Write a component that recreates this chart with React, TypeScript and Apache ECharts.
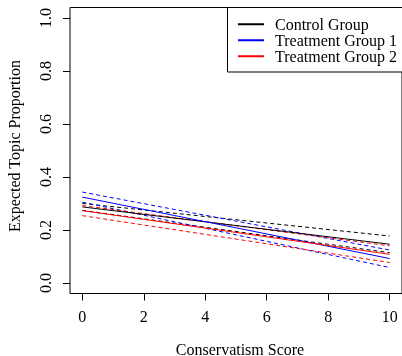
import React, { useEffect, useRef } from "react";
import * as echarts from "echarts";

const xs = [0, 10];
const xTicks = [0, 2, 4, 6, 8, 10];
const yTicks = [0, 0.2, 0.4, 0.6, 0.8, 1.0];

const groupNames = ["Control Group", "Treatment Group 1", "Treatment Group 2"];
const groupColors = ["#000000", "#0000ff", "#ff0000"];

const controlMean = [0.287, 0.146];
const controlUpper = [0.3, 0.177];
const controlLower = [0.274, 0.114];

const t1Mean = [0.324, 0.092];
const t1Upper = [0.343, 0.124];
const t1Lower = [0.305, 0.058];

const t2Mean = [0.273, 0.108];
const t2Upper = [0.292, 0.14];
const t2Lower = [0.254, 0.077];

const FONT = "Liberation Serif";

export default function App() {
  const ref = useRef<HTMLDivElement>(null);
  useEffect(() => {
    if (!ref.current) return;
    const chart = echarts.init(ref.current, null, { renderer: "svg" });
    const groups = [
      [controlMean, controlUpper, controlLower],
      [t1Mean, t1Upper, t1Lower],
      [t2Mean, t2Upper, t2Lower],
    ];
    const series: any[] = [];
    groups.forEach((g, gi) => {
      const [mean, up, lo] = g;
      series.push({
        name: groupNames[gi],
        type: "line",
        data: xs.map((x, i) => [x, mean[i]]),
        symbol: "none",
        lineStyle: { color: groupColors[gi], width: 1 },
        itemStyle: { color: groupColors[gi] },
        z: 3,
      });
      [up, lo].forEach((arr, k) => {
        series.push({
          name: groupNames[gi] + (k === 0 ? " upper" : " lower"),
          type: "line",
          data: xs.map((x, i) => [x, arr[i]]),
          symbol: "none",
          lineStyle: { color: groupColors[gi], width: 1, type: [4, 3] },
          itemStyle: { color: groupColors[gi] },
          z: 2,
        });
      });
    });

    chart.setOption({
      animation: false,
      textStyle: { fontFamily: FONT, color: "#000" },
      grid: {
        left: 70,
        top: 7.5,
        width: 333,
        height: 286,
        show: true,
        borderColor: "#000",
        borderWidth: 1,
        backgroundColor: "transparent",
      },
      xAxis: {
        type: "value",
        min: -0.4,
        max: 10.4,
        axisLine: { show: false, onZero: false },
        splitLine: { show: false },
        axisTick: {
          show: true,
          length: 7,
          inside: false,
          customValues: xTicks,
          lineStyle: { color: "#000" },
        },
        axisLabel: {
          customValues: xTicks,
          margin: 15,
          fontSize: 16,
          fontFamily: FONT,
          color: "#000",
        },
      },
      yAxis: {
        type: "value",
        min: -0.04,
        max: 1.04,
        axisLine: { show: false, onZero: false },
        splitLine: { show: false },
        axisTick: {
          show: true,
          length: 7,
          inside: false,
          customValues: yTicks,
          lineStyle: { color: "#000" },
        },
        axisLabel: {
          customValues: yTicks,
          rotate: 90,
          margin: 17,
          fontSize: 16,
          fontFamily: FONT,
          color: "#000",
          formatter: (v: number) => v.toFixed(1),
        },
      },
      legend: {
        data: groupNames,
        orient: "vertical",
        left: 227,
        top: 7.5,
        padding: [8.75, 0, 9.25, 11],
        borderWidth: 0,
        icon: "rect",
        itemWidth: 26,
        itemHeight: 2,
        itemGap: 0,
        z: 10,
        textStyle: {
          fontFamily: FONT,
          fontSize: 16,
          color: "#000",
          lineHeight: 15.5,
          padding: [0, 0, 0, 6],
        },
      },
      graphic: [
        {
          type: "rect",
          shape: { x: 227.5, y: 7.5, width: 200, height: 64.5 },
          style: { fill: "#fff", stroke: "#000", lineWidth: 1 },
          z: 1,
          silent: true,
        },
        {
          type: "text",
          x: 240,
          y: 349,
          style: {
            text: "Conservatism Score",
            font: `16px "${FONT}"`,
            fill: "#000",
            textAlign: "center",
            textVerticalAlign: "middle",
          },
        },
        {
          type: "text",
          x: 14,
          y: 146,
          rotation: Math.PI / 2,
          style: {
            text: "Expected Topic Proportion",
            font: `16px "${FONT}"`,
            fill: "#000",
            textAlign: "center",
            textVerticalAlign: "middle",
          },
        },
      ],
      series,
    });
    return () => chart.dispose();
  }, []);
  return (
    <div
      ref={ref}
      style={{ position: "fixed", left: 0, top: 0, width: 402, height: 356 }}
    />
  );
}
